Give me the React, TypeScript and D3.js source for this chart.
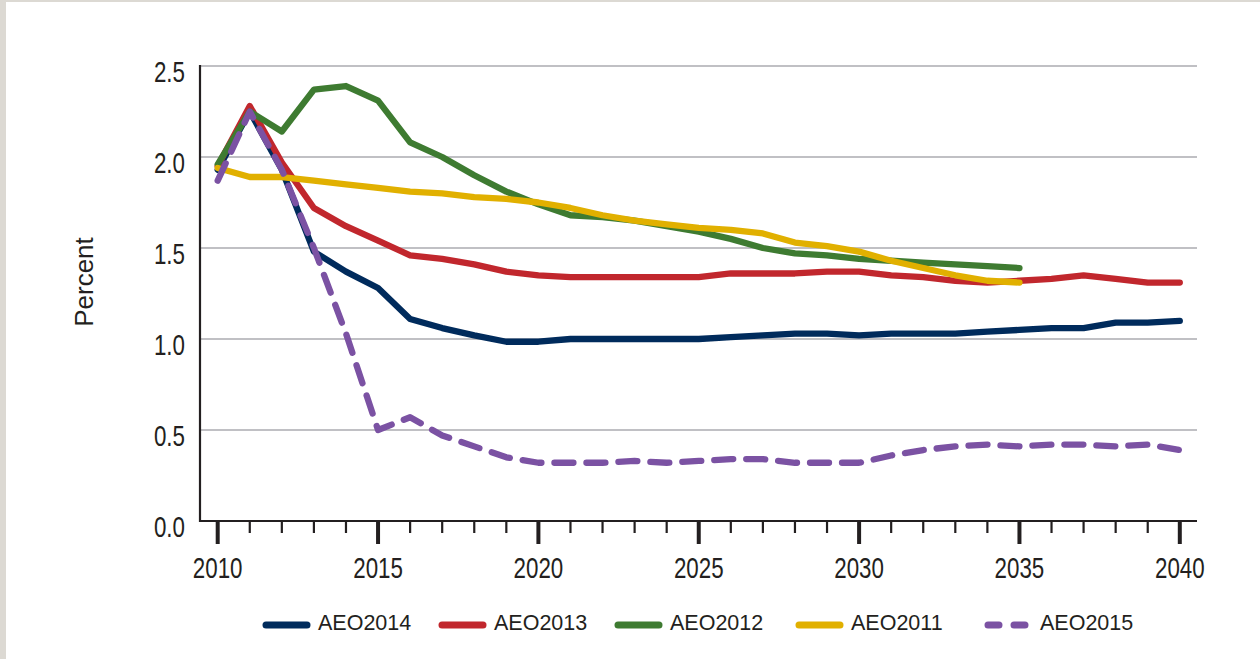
import React from 'react';
import * as d3 from 'd3';

// x categories and series values
const years = [
  2010, 2011, 2012, 2013, 2014, 2015, 2016, 2017, 2018, 2019, 2020,
  2021, 2022, 2023, 2024, 2025, 2026, 2027, 2028, 2029, 2030,
  2031, 2032, 2033, 2034, 2035, 2036, 2037, 2038, 2039, 2040,
];

const aeo2014 = [
  1.93, 2.25, 1.93, 1.48, 1.37, 1.28, 1.11, 1.06, 1.02, 0.985, 0.985,
  1.0, 1.0, 1.0, 1.0, 1.0, 1.01, 1.02, 1.03, 1.03, 1.02,
  1.03, 1.03, 1.03, 1.04, 1.05, 1.06, 1.06, 1.09, 1.09, 1.1,
];
const aeo2013 = [
  1.95, 2.28, 1.97, 1.72, 1.62, 1.54, 1.46, 1.44, 1.41, 1.37, 1.35,
  1.34, 1.34, 1.34, 1.34, 1.34, 1.36, 1.36, 1.36, 1.37, 1.37,
  1.35, 1.34, 1.32, 1.31, 1.32, 1.33, 1.35, 1.33, 1.31, 1.31,
];
const aeo2012 = [
  1.96, 2.25, 2.14, 2.37, 2.39, 2.31, 2.08, 2.0, 1.9, 1.81, 1.74,
  1.68, 1.67, 1.65, 1.62, 1.59, 1.55, 1.5, 1.47, 1.46, 1.44,
  1.43, 1.42, 1.41, 1.4, 1.39,
];
const aeo2011 = [
  1.94, 1.89, 1.89, 1.87, 1.85, 1.83, 1.81, 1.8, 1.78, 1.77, 1.75,
  1.72, 1.68, 1.65, 1.63, 1.61, 1.6, 1.58, 1.53, 1.51, 1.48,
  1.43, 1.39, 1.35, 1.32, 1.31,
];
const aeo2015 = [
  1.87, 2.25, 1.93, 1.5, 1.03, 0.5, 0.57, 0.47, 0.41, 0.35, 0.32,
  0.32, 0.32, 0.33, 0.32, 0.33, 0.34, 0.34, 0.32, 0.32, 0.32,
  0.36, 0.39, 0.41, 0.42, 0.41, 0.42, 0.42, 0.41, 0.42, 0.39,
];

const xTickLabels = [2010, 2015, 2020, 2025, 2030, 2035, 2040];
const yTickLabels = [0, 0.5, 1.0, 1.5, 2.0, 2.5];

// legend order as in the figure
const legendNames = ['AEO2014', 'AEO2013', 'AEO2012', 'AEO2011', 'AEO2015'];

const COLORS: Record<string, string> = {
  AEO2014: '#002b5c',
  AEO2013: '#c1272d',
  AEO2012: '#3e7b31',
  AEO2011: '#e1b000',
  AEO2015: '#7b52a3',
};

const seriesByName: Record<string, number[]> = {
  AEO2014: aeo2014,
  AEO2013: aeo2013,
  AEO2012: aeo2012,
  AEO2011: aeo2011,
  AEO2015: aeo2015,
};

const drawOrder = ['AEO2014', 'AEO2013', 'AEO2012', 'AEO2011', 'AEO2015'];

const W = 1260;
const H = 659;
const axisLeft = 200;
const axisRight = 1197;
const ink = '#231f20';
const font = "'Liberation Sans', Arial, sans-serif";

const App: React.FC = () => {
  const x = d3.scaleLinear().domain([2010, 2040]).range([217.7, 1179.8]);
  const y = d3.scaleLinear().domain([0, 2.5]).range([521, 66]);

  const line = d3
    .line<number>()
    .x((_, i) => x(years[i]))
    .y((d) => y(d))
    .curve(d3.curveLinear);

  // legend item x positions (line start)
  const legendX = [263, 439, 615, 796, 985];
  const legendY = 625;

  return (
    <svg
      width={W}
      height={H}
      style={{ position: 'absolute', left: 0, top: 0, background: '#fff' }}
    >
      {/* frame */}
      <rect x={0} y={0} width={W} height={2} fill="#dcd9d3" />
      <rect x={0} y={0} width={6} height={H} fill="#dcd9d3" />

      {/* gridlines */}
      {yTickLabels
        .filter((v) => v > 0)
        .map((v) => (
          <line
            key={'g' + v}
            x1={axisLeft}
            x2={axisRight}
            y1={y(v)}
            y2={y(v)}
            stroke="#c0c0c4"
            strokeWidth={2}
          />
        ))}

      {/* y tick labels */}
      {yTickLabels.map((v) => (
        <text
          key={'yl' + v}
          transform={`translate(185,${y(v) + 16}) scale(0.77,1)`}
          textAnchor="end"
          fontFamily={font}
          fontSize={29}
          fill={ink}
        >
          {d3.format('.1f')(v)}
        </text>
      ))}

      {/* x ticks */}
      {years.map((yr) => {
        const major = yr % 5 === 0;
        return (
          <line
            key={'t' + yr}
            x1={x(yr)}
            x2={x(yr)}
            y1={y(0)}
            y2={y(0) + (major ? 23 : 12)}
            stroke={ink}
            strokeWidth={major ? 4 : 2.2}
          />
        );
      })}

      {/* x tick labels */}
      {xTickLabels.map((yr) => (
        <text
          key={'xl' + yr}
          transform={`translate(${x(yr)},578) scale(0.77,1)`}
          textAnchor="middle"
          fontFamily={font}
          fontSize={29}
          fill={ink}
        >
          {yr}
        </text>
      ))}

      {/* axes */}
      <line x1={axisLeft} x2={axisLeft} y1={y(2.5) - 1} y2={y(0) + 1} stroke={ink} strokeWidth={2.2} />
      <line x1={axisLeft - 1} x2={axisRight} y1={y(0)} y2={y(0)} stroke={ink} strokeWidth={2.2} />

      {/* y axis title */}
      <text
        transform={`translate(93,282) rotate(-90)`}
        textAnchor="middle"
        fontFamily={font}
        fontSize={26}
        fill={ink}
      >
        Percent
      </text>

      {/* series */}
      {drawOrder.map((name) => (
        <path
          key={name}
          d={line(seriesByName[name]) || ''}
          fill="none"
          stroke={COLORS[name]}
          strokeWidth={6.3}
          strokeLinejoin="round"
          strokeLinecap="round"
          strokeDasharray={name === 'AEO2015' ? '19 13' : undefined}
        />
      ))}

      {/* legend */}
      {legendNames.map((name, i) => (
        <g key={'lg' + name} transform={`translate(${legendX[i]},${legendY})`}>
          <line
            x1={3}
            x2={44}
            y1={0}
            y2={0}
            stroke={COLORS[name]}
            strokeWidth={7}
            strokeLinecap="round"
            strokeDasharray={name === 'AEO2015' ? '11 15' : undefined}
          />
          <text x={55} y={5} fontFamily={font} fontSize={21.5} fill={ink}>
            {name}
          </text>
        </g>
      ))}
    </svg>
  );
};

export default App;
